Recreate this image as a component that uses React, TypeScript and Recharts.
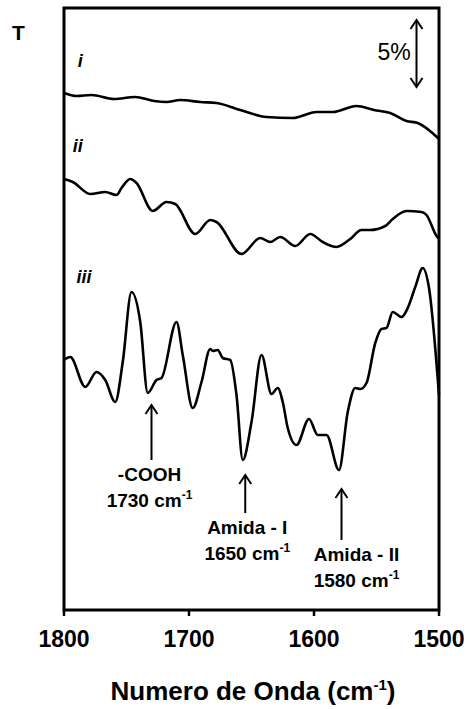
import { ComposedChart, Line, XAxis, YAxis, ReferenceLine, ReferenceArea, ReferenceDot } from 'recharts';

// wavenumber (cm-1) and transmittance (arbitrary units, curves offset)
const waveI = [1800, 1790, 1778, 1760, 1743, 1728, 1718, 1707, 1691, 1678, 1659, 1638, 1617, 1598, 1585, 1566, 1552, 1539, 1526, 1517, 1500];
const transI = [517, 514, 515, 511, 513, 509, 508, 510, 508, 507, 500, 493, 492, 498, 498, 504, 500, 497, 489, 487, 471];

const waveII = [1800, 1793, 1779, 1767, 1758, 1754, 1747, 1742, 1729, 1718, 1711, 1695, 1683, 1678, 1658, 1643, 1635, 1627, 1615, 1603, 1593, 1582, 1571, 1562, 1555, 1543, 1537, 1526, 1514, 1510, 1502, 1500];
const transII = [431, 428, 416, 418, 415, 422, 431, 427, 399, 408, 406, 376, 390, 388, 356, 372, 368, 373, 364, 376, 368, 363, 371, 380, 380, 384, 391, 399, 398, 395, 374, 371];

const waveIII = [1800, 1795, 1783, 1774, 1767, 1759, 1753, 1746, 1739, 1733, 1726, 1722, 1710, 1705, 1697, 1690, 1683, 1681, 1677, 1673, 1667, 1662, 1657, 1650, 1642, 1634, 1629, 1625, 1621, 1614, 1604, 1597, 1590, 1580, 1573, 1567, 1563, 1558, 1551, 1546, 1542, 1537, 1530, 1525, 1519, 1513, 1508, 1500];
const transIII = [250, 253, 223, 238, 230, 208, 248, 318, 288, 217, 230, 232, 288, 255, 202, 228, 261, 259, 260, 252, 250, 215, 150, 188, 255, 216, 222, 208, 182, 165, 191, 175, 175, 140, 198, 222, 221, 227, 267, 281, 282, 298, 293, 302, 323, 342, 322, 215];

const xTicks = [1800, 1700, 1600, 1500];

const curveLabels = [
  { text: 'i', wn: 1787, t: 543 },
  { text: 'ii', wn: 1789, t: 458 },
  { text: 'iii', wn: 1784, t: 327 },
];

const bands = [
  { name: '-COOH', label: 1730, wn: 1730, head: 205, tail: 150, dx: -2 },
  { name: 'Amida - I', label: 1650, wn: 1655, head: 135, tail: 97, dx: 2 },
  { name: 'Amida - II', label: 1580, wn: 1578, head: 121, tail: 70, dx: 15 },
];

const FONT = '"Liberation Sans", Arial, sans-serif';

const toData = (w: number[], t: number[]) => w.map((wn, i) => ({ wn, t: t[i] }));

function head(x: number, y: number, dir: number) {
  return <polyline points={`${x - 6},${y + dir * 9} ${x},${y} ${x + 6},${y + dir * 9}`} fill="none" stroke="#000" strokeWidth={2} />;
}

function BandArrow(name: string, label: number, dx: number) {
  return (props: any) => {
    const { x1, y1, x2, y2 } = props;
    const top = Math.min(y1, y2);
    const bottom = Math.max(y1, y2);
    return (
      <g>
        <line x1={x1} y1={top} x2={x2} y2={bottom} stroke="#000" strokeWidth={2} />
        {head(x1, top, 1)}
        <text x={x1 + dx} y={bottom + 21} textAnchor="middle" fontFamily={FONT} fontWeight="bold" fontSize={19} fill="#000">{name}</text>
        <text x={x1 + dx} y={bottom + 47} textAnchor="middle" fontFamily={FONT} fontWeight="bold" fontSize={19} fill="#000">
          {label} cm<tspan dy={-8} fontSize={12}>-1</tspan>
        </text>
      </g>
    );
  };
}

function ScaleBar(props: any) {
  const { x1, y1, x2, y2 } = props;
  const top = Math.min(y1, y2);
  const bottom = Math.max(y1, y2);
  return (
    <g>
      <line x1={x1} y1={top} x2={x2} y2={bottom} stroke="#000" strokeWidth={2} />
      {head(x1, top, 1)}
      {head(x1, bottom, -1)}
    </g>
  );
}

export default function App() {
  return (
    <div style={{ position: 'absolute', left: 0, top: 0, width: 468, height: 709, background: '#fff' }}>
      <div style={{ position: 'absolute', left: 12, top: 22, fontFamily: FONT, fontWeight: 'bold', fontSize: '21px', lineHeight: '21px' }}>T</div>
      <ComposedChart width={468} height={709} margin={{ top: 8, right: 29, left: 64, bottom: 0 }}>
        <XAxis
          type="number"
          dataKey="wn"
          domain={[1500, 1800]}
          reversed
          ticks={xTicks}
          axisLine={false}
          tickSize={6}
          tickMargin={15}
          height={99}
          tickLine={{ stroke: '#000', strokeWidth: 2.5 }}
          tick={{ fill: '#000', fontSize: 23, fontWeight: 'bold', fontFamily: FONT }}
        />
        <YAxis type="number" domain={[0, 602]} hide />
        <ReferenceArea x1={1800} x2={1500} y1={0} y2={602} fill="none" stroke="#000" strokeWidth={3} />
        <Line data={toData(waveI, transI)} dataKey="t" type="monotone" stroke="#000" strokeWidth={2.6} dot={false} isAnimationActive={false} />
        <Line data={toData(waveII, transII)} dataKey="t" type="monotone" stroke="#000" strokeWidth={2.6} dot={false} isAnimationActive={false} />
        <Line data={toData(waveIII, transIII)} dataKey="t" type="monotone" stroke="#000" strokeWidth={2.6} dot={false} isAnimationActive={false} />
        {curveLabels.map((c) => (
          <ReferenceDot
            key={c.text}
            x={c.wn}
            y={c.t}
            shape={(p: any) => (
              <text x={p.cx} y={p.cy} textAnchor="middle" fontFamily={FONT} fontWeight="bold" fontStyle="italic" fontSize={18} fill="#000">{c.text}</text>
            )}
          />
        ))}
        {bands.map((b) => (
          <ReferenceLine
            key={b.name}
            segment={[{ x: b.wn, y: b.tail }, { x: b.wn, y: b.head }]}
            shape={BandArrow(b.name, b.label, b.dx)}
          />
        ))}
        <ReferenceLine segment={[{ x: 1518, y: 523 }, { x: 1518, y: 590 }]} shape={ScaleBar} />
        <ReferenceDot
          x={1536}
          y={550}
          shape={(p: any) => (
            <text x={p.cx} y={p.cy} textAnchor="middle" fontFamily={FONT} fontSize={23} fill="#000">5%</text>
          )}
        />
      </ComposedChart>
      <div style={{ position: 'absolute', left: 253, top: 678, transform: 'translateX(-50%)', whiteSpace: 'nowrap', fontFamily: FONT, fontWeight: 'bold', fontSize: 26, lineHeight: '26px' }}>
        Numero de Onda (cm<sup style={{ fontSize: 15, lineHeight: 0 }}>-1</sup>)
      </div>
    </div>
  );
}
